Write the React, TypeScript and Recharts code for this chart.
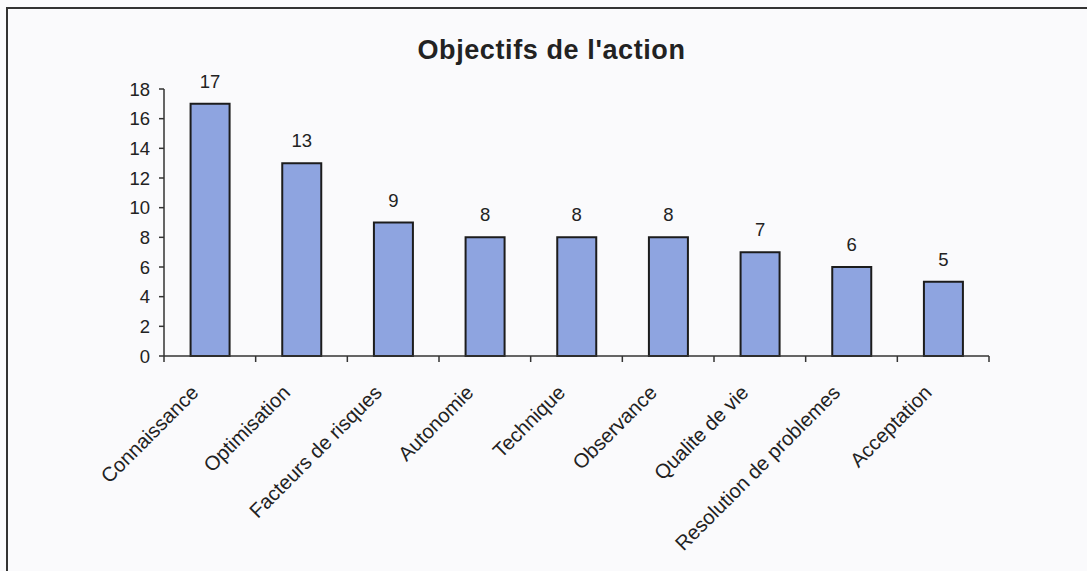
import { BarChart, Bar, XAxis, YAxis, LabelList } from "recharts";

const categories = [
  "Connaissance",
  "Optimisation",
  "Facteurs de risques",
  "Autonomie",
  "Technique",
  "Observance",
  "Qualite de vie",
  "Resolution de problemes",
  "Acceptation",
];
const counts = [17, 13, 9, 8, 8, 8, 7, 6, 5];
const yTicks = [0, 2, 4, 6, 8, 10, 12, 14, 16, 18];

const data = categories.map((name, i) => ({ name, value: counts[i] }));

const FONT = "'Liberation Sans', Arial, sans-serif";

type TickProps = {
  x?: number;
  y?: number;
  payload?: { value: string; offset?: number; index?: number };
};

// label rotated -45deg, plus the tick marks between categories (Excel style)
function RotatedTick({ x = 0, y = 0, payload }: TickProps) {
  const half = payload?.offset ?? 0;
  const isLast = payload?.index === categories.length - 1;
  return (
    <g>
      <line x1={x - half} y1={y} x2={x - half} y2={y + 6} stroke="#333" strokeWidth={1.5} />
      {isLast && (
        <line x1={x + half} y1={y} x2={x + half} y2={y + 6} stroke="#333" strokeWidth={1.5} />
      )}
      <g transform={`translate(${x - 20},${y + 28})`}>
        <text
          x={0}
          y={0}
          dy={14}
          textAnchor="end"
          transform="rotate(-45)"
          fontSize={20.2}
          fontFamily={FONT}
          fill="#222"
        >
          {payload?.value}
        </text>
      </g>
    </g>
  );
}

export default function App() {
  return (
    <div
      style={{
        position: "fixed",
        top: 0,
        left: 0,
        width: 1087,
        height: 571,
        background: "#fafafc",
        overflow: "hidden",
        fontFamily: FONT,
      }}
    >
      <div
        style={{
          position: "absolute",
          left: 6,
          top: 7,
          width: 1200,
          height: 700,
          borderLeft: "2px solid #333",
          borderTop: "2px solid #333",
        }}
      />
      <div
        style={{
          position: "absolute",
          left: 0,
          width: 1103,
          top: 35,
          textAlign: "center",
          fontSize: 27,
          fontWeight: "bold",
          letterSpacing: 0.6,
          color: "#222",
        }}
      >
        Objectifs de l'action
      </div>
      <div style={{ position: "absolute", left: 0, top: 0 }}>
        <BarChart
          width={1087}
          height={571}
          data={data}
          margin={{ top: 89, right: 98, left: 0, bottom: 0 }}
          barCategoryGap="29%"
        >
          <XAxis
            dataKey="name"
            height={215}
            interval={0}
            tick={<RotatedTick />}
            tickLine={false}
            tickSize={0}
            tickMargin={0}
            axisLine={{ stroke: "#333", strokeWidth: 1.5 }}
          />
          <YAxis
            width={164}
            domain={[0, 18]}
            ticks={yTicks}
            interval={0}
            tickSize={5}
            tickMargin={9}
            axisLine={{ stroke: "#333", strokeWidth: 1.5 }}
            tickLine={{ stroke: "#333", strokeWidth: 1.5 }}
            tick={{ fontSize: 18.5, fill: "#222", fontFamily: FONT }}
          />
          <Bar
            dataKey="value"
            fill="#8ea4e0"
            stroke="#1c1c1c"
            strokeWidth={2}
            isAnimationActive={false}
          >
            <LabelList
              dataKey="value"
              position="top"
              offset={16}
              fontSize={18.5}
              fill="#222"
              fontFamily={FONT}
            />
          </Bar>
        </BarChart>
      </div>
    </div>
  );
}
